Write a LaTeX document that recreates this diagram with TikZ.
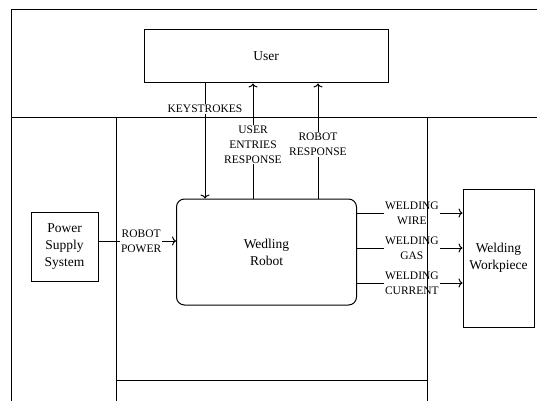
\documentclass[tikz,border=0pt]{standalone}
\usepackage{fontspec}
\setmainfont{Liberation Serif}
\usetikzlibrary{arrows,arrows.meta,positioning}
\tikzstyle{blk}=[rectangle,draw,line width=1pt,align=center,inner sep=0pt,font=\fontsize{13.5}{17}\selectfont]
\tikzstyle{lbl}=[fill=white,align=center,inner sep=1pt,font=\fontsize{11.5}{15}\selectfont]
\tikzstyle{flow}=[-{To[length=4pt,width=9pt]},line width=1pt]
\tikzstyle{frame}=[line width=1pt]

\begin{document}
\begin{tikzpicture}[x=1pt,y=-1pt]
\useasboundingbox (0,0) rectangle (537,401);
\node (user) [blk, minimum width=244pt, minimum height=53pt] at (266,56.5) {User};
\node (robot) [blk, rounded corners=8pt, minimum width=180pt, minimum height=106pt] at (266.5,252) {Wedling\\Robot};
\node (power) [blk, minimum width=67pt, minimum height=69pt] at (64.5,246.5) {Power\\Supply\\System};
\node (work) [blk, minimum width=71pt, minimum height=138pt] at (498.5,258) {Welding\\Workpiece};
% columns and rows of the connectors
\coordinate (keyx) at (205,0);
\coordinate (entx) at (253,0);
\coordinate (resx) at (318,0);
\coordinate (wirey) at (0,213);
\coordinate (gasy) at (0,248);
\coordinate (curry) at (0,283);
\coordinate (powy) at (0,241);
\draw [flow] (user.south -| keyx) -- node [lbl, pos=0.22] {KEYSTROKES} (robot.north -| keyx);
\draw [flow] (robot.north -| entx) -- node [lbl, pos=0.47] {USER\\ENTRIES\\RESPONSE} (user.south -| entx);
\draw [flow] (robot.north -| resx) -- node [lbl, pos=0.47] {ROBOT\\RESPONSE} (user.south -| resx);
\draw [flow] (power.east |- powy) -- node [lbl, pos=0.55] {ROBOT\\POWER} (robot.west |- powy);
\draw [flow] (robot.east |- wirey) -- node [lbl, pos=0.52] {WELDING\\WIRE} (work.west |- wirey);
\draw [flow] (robot.east |- gasy) -- node [lbl, pos=0.52] {WELDING\\GAS} (work.west |- gasy);
\draw [flow] (robot.east |- curry) -- node [lbl, pos=0.52] {WELDING\\CURRENT} (work.west |- curry);
% boundary lines
\draw [frame] (537,10) -- (11,10) -- (11,401);
\draw [frame] (11,117) -- (537,117);
\draw [frame] (116,117) -- (116,401);
\draw [frame] (427,117) -- (427,401);
\draw [frame] (116,380) -- (427,380);
\end{tikzpicture}
\end{document}
